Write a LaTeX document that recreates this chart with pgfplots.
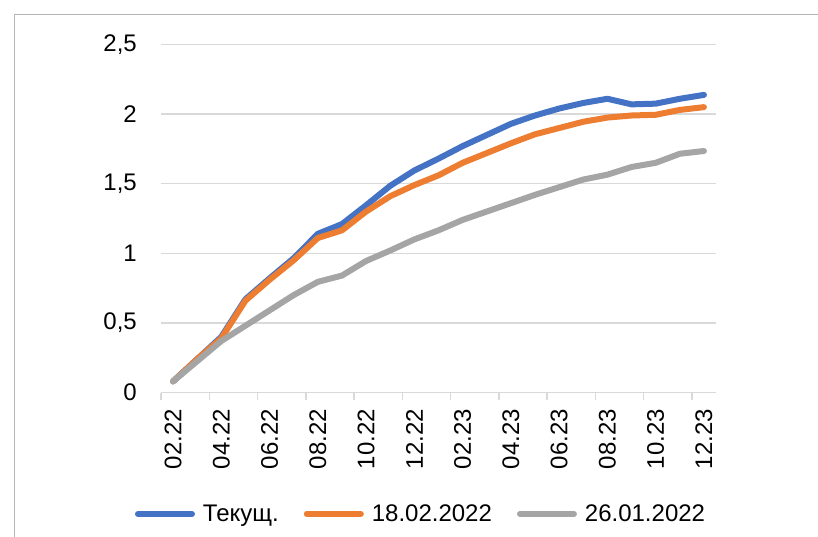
\documentclass[border=0pt]{standalone}
\usepackage{fontspec}
\setmainfont{Liberation Sans}
\usepackage{pgfplots}
\pgfplotsset{compat=1.18}

\definecolor{serBlue}{HTML}{4472C4}
\definecolor{serOrange}{HTML}{ED7D31}
\definecolor{serGray}{HTML}{A5A5A5}
\definecolor{gridGray}{HTML}{D9D9D9}
\definecolor{frameGray}{HTML}{B4B4B4}

\newcommand{\lbl}{\fontsize{24}{28}\selectfont}

\begin{document}
\begin{tikzpicture}
  \path[use as bounding box, clip] (0pt,0pt) rectangle (818pt,536pt);
  % outer chart frame (cut at right and bottom)
  \draw[frameGray, line width=1.6pt] (14.5pt,-20pt) -- (14.5pt,521.5pt) -- (840pt,521.5pt);
  \begin{axis}[
    at={(161pt,143.5pt)}, anchor=south west,
    scale only axis,
    width=555pt, height=348pt,
    xmin=-0.5, xmax=22.5,
    ymin=0, ymax=2.5,
    axis x line*=bottom, axis y line*=left,
    x axis line style={gridGray, line width=1.5pt},
    y axis line style={draw=none},
    ytick={0,0.5,1,1.5,2,2.5},
    xtick={0,2,...,22},
    xticklabels={02.22,04.22,06.22,08.22,10.22,12.22,02.23,04.23,06.23,08.23,10.23,12.23},
    minor xtick={-0.5,1.5,...,21.5},
    xtick align=outside,
    major tick length=0pt,
    minor tick length=7pt,
    minor x tick style={gridGray, line width=1.5pt},
    ymajorgrids=true,
    grid style={gridGray, line width=1.5pt},
    /pgf/number format/.cd, use comma, fixed, assume math mode=true,
    /pgfplots/.cd,
    tick label style={font=\lbl, inner sep=0pt},
    yticklabel style={anchor=east, xshift=-24pt},
    xticklabel style={yshift=-16.5pt, rotate=90, anchor=east},
    legend columns=3,
    legend style={
      at={(0.4667,-0.349)}, anchor=center,
      draw=none, fill=none, inner sep=0pt,
      font=\lbl,
      nodes={inner sep=0pt},
      /tikz/every odd column/.append style={column sep=8pt},
      /tikz/every even column/.append style={column sep=25pt},
    },
    legend image code/.code={
      \draw[#1, line width=6pt, line cap=round] (3pt,0pt) -- (57pt,0pt);
    },
    every axis plot/.append style={line width=6pt, line join=round, line cap=round},
  ]
    \addplot[serBlue, mark=none] coordinates {
      (0,0.08) (1,0.24) (2,0.40) (3,0.67) (4,0.82) (5,0.965) (6,1.14) (7,1.21)
      (8,1.345) (9,1.485) (10,1.595) (11,1.68) (12,1.77) (13,1.85) (14,1.93)
      (15,1.99) (16,2.04) (17,2.08) (18,2.11) (19,2.07) (20,2.075) (21,2.11) (22,2.138)};
    \addplot[serOrange, mark=none] coordinates {
      (0,0.08) (1,0.24) (2,0.39) (3,0.66) (4,0.81) (5,0.95) (6,1.11) (7,1.165)
      (8,1.30) (9,1.41) (10,1.49) (11,1.56) (12,1.65) (13,1.72) (14,1.79)
      (15,1.855) (16,1.90) (17,1.945) (18,1.975) (19,1.99) (20,1.995) (21,2.03) (22,2.05)};
    \addplot[serGray, mark=none] coordinates {
      (0,0.08) (1,0.225) (2,0.37) (3,0.48) (4,0.59) (5,0.70) (6,0.795) (7,0.84)
      (8,0.945) (9,1.02) (10,1.10) (11,1.165) (12,1.24) (13,1.30) (14,1.36)
      (15,1.42) (16,1.475) (17,1.53) (18,1.565) (19,1.62) (20,1.65) (21,1.715) (22,1.735)};
    \legend{Текущ., 18.02.2022, 26.01.2022}
  \end{axis}
\end{tikzpicture}
\end{document}
